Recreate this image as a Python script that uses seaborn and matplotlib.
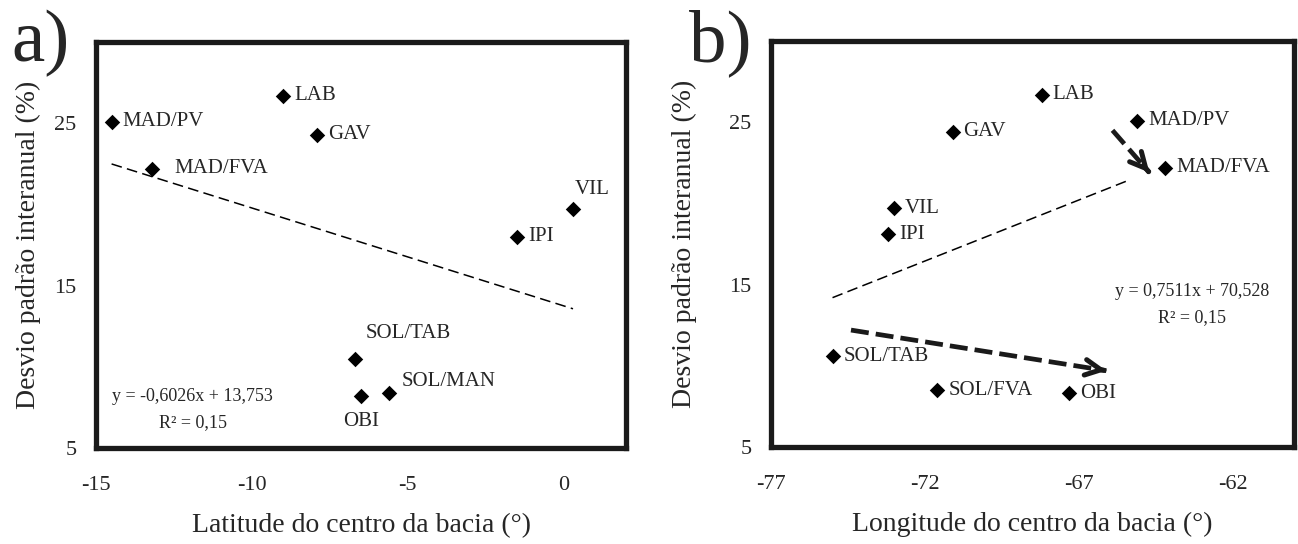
import numpy as np
import pandas as pd
import matplotlib.pyplot as plt
import seaborn as sns

# ---------------------------------------------------------------
# Data
# a) latitude
bacias_a = ['MAD/PV', 'LAB', 'GAV', 'MAD/FVA', 'VIL', 'IPI', 'SOL/TAB', 'SOL/MAN', 'OBI']
latitude = [-14.5, -9.0, -7.9, -13.2, 0.3, -1.5, -6.7, -5.6, -6.5]
desvio_a = [25.1, 26.7, 24.3, 22.2, 19.7, 18.0, 10.5, 8.4, 8.2]

# b) longitude
bacias_b = ['LAB', 'MAD/PV', 'GAV', 'MAD/FVA', 'VIL', 'IPI', 'SOL/TAB', 'SOL/FVA', 'OBI']
longitude = [-68.2, -65.1, -71.1, -64.2, -73.0, -73.2, -75.0, -71.6, -67.3]
desvio_b = [26.7, 25.1, 24.4, 22.2, 19.7, 18.1, 10.6, 8.5, 8.3]

# Trend lines (slope, intercept) and x span of each line
coef_a = [-0.6026, 13.753]
coef_b = [0.7511, 70.528]
trend_x_a = [-14.5, 0.3]
trend_x_b = [-75.0, -65.4]

eq_a = ['y = -0,6026x + 13,753', 'R² = 0,15']
eq_b = ['y = 0,7511x + 70,528', 'R² = 0,15']

# Arrows in panel b (start -> end)
arrow_start = [(-74.4, 12.2), (-65.9, 24.5)]
arrow_end = [(-66.1, 9.7), (-64.7, 21.9)]

xticks_a = [-15, -10, -5, 0]
xticks_b = [-77, -72, -67, -62]
yticks = [5, 15, 25]

df_a = pd.DataFrame({'bacia': bacias_a, 'x': latitude, 'y': desvio_a})
df_b = pd.DataFrame({'bacia': bacias_b, 'x': longitude, 'y': desvio_b})

# ---------------------------------------------------------------
sns.set_style('white')
plt.rcParams['font.family'] = ['Liberation Serif', 'DejaVu Serif']
plt.rcParams['axes.unicode_minus'] = False

fig = plt.figure(figsize=(12.98, 5.44), dpi=100)
ax_a = fig.add_axes([96 / 1298, 1 - 448 / 544, 530 / 1298, 406 / 544])
ax_b = fig.add_axes([771 / 1298, 1 - 447 / 544, 523 / 1298, 406 / 544])

# label offsets in points (dx, dy, ha)
offs_a = {'MAD/PV': (8, 0, 'left'), 'LAB': (8, 0, 'left'), 'GAV': (8, 0, 'left'),
          'MAD/FVA': (16, 0, 'left'), 'VIL': (1, 14, 'left'), 'IPI': (8, 0, 'left'),
          'SOL/TAB': (8, 18, 'left'), 'SOL/MAN': (9, 8, 'left'), 'OBI': (0, -18, 'center')}
offs_b = {b: (8, 0, 'left') for b in bacias_b}


def draw_panel(ax, df, coef, trend_x, eq, eq_pos, xlim, xticks, xlabel, offs, ylab_x):
    sns.scatterplot(data=df, x='x', y='y', marker='D', color='black', s=62,
                    linewidth=0, ax=ax, zorder=3)
    tx = np.array(trend_x)
    ax.plot(tx, coef[0] * tx + coef[1], color='black', lw=1.1, linestyle=(0, (7, 3.5)))
    for _, r in df.iterrows():
        dx, dy, ha = offs[r['bacia']]
        ax.annotate(r['bacia'], (r['x'], r['y']), xytext=(dx, dy), textcoords='offset points',
                    ha=ha, va='center', fontsize=15)
    ax.text(eq_pos[0], eq_pos[1], eq[0], ha='center', va='center', fontsize=13)
    ax.text(eq_pos[0], eq_pos[2], eq[1], ha='center', va='center', fontsize=13)
    ax.set_xlim(xlim)
    ax.set_ylim(5, 30)
    ax.set_xticks(xticks)
    ax.set_yticks(yticks)
    ax.tick_params(length=0, labelsize=16)
    ax.tick_params(axis='x', pad=20)
    ax.tick_params(axis='y', pad=14)
    ax.set_xlabel(xlabel, fontsize=20)
    ax.set_ylabel('Desvio padrão interanual (%)', fontsize=20)
    ax.xaxis.set_label_coords(0.5, -0.16)
    ax.yaxis.set_label_coords(ylab_x, 0.5)
    for sp in ax.spines.values():
        sp.set_visible(True)
        sp.set_linewidth(3.8)
        sp.set_color('#1a1a1a')


draw_panel(ax_a, df_a, coef_a, trend_x_a, eq_a, (-11.9, 8.15, 6.55), (-15, 2), xticks_a,
           'Latitude do centro da bacia (°)', offs_a, -0.104)
draw_panel(ax_b, df_b, coef_b, trend_x_b, eq_b, (-63.3, 14.55, 12.95), (-77, -60), xticks_b,
           'Longitude do centro da bacia (°)', offs_b, -0.141)

# thick dashed arrows in panel b
for (x0, y0), (x1, y1) in zip(arrow_start, arrow_end):
    ax_b.plot([x0, x1], [y0, y1], color='#1a1a1a', lw=3.4, linestyle=(0, (3.8, 1.5)),
              solid_capstyle='butt')
    ax_b.annotate('', xy=(x1, y1), xytext=(x1 - 0.02 * (x1 - x0), y1 - 0.02 * (y1 - y0)),
                  arrowprops=dict(arrowstyle='->', lw=3.6, color='#1a1a1a', mutation_scale=28))

fig.text(40 / 1298, 1 - 43 / 544, 'a)', fontsize=54, ha='center', va='center')
fig.text(720 / 1298, 1 - 43 / 544, 'b)', fontsize=54, ha='center', va='center')

fig.savefig('out.png', dpi=100)
